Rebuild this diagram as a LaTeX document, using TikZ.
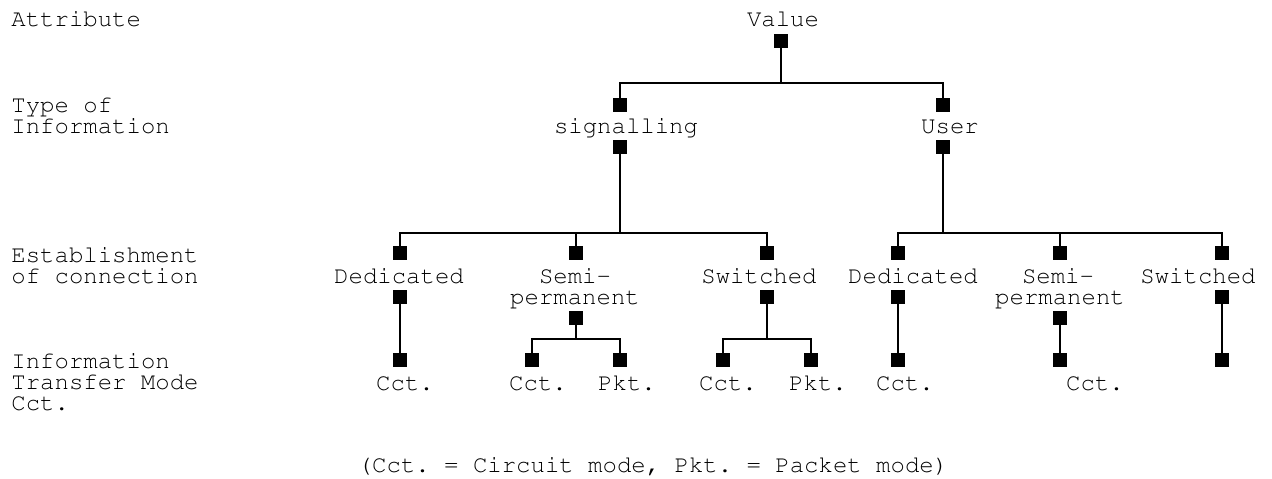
\documentclass[tikz,border=0pt]{standalone}
\usepackage[T1]{fontenc}
\usepackage{courier}
\frenchspacing
\begin{document}
\begin{tikzpicture}[x=0.5pt,y=-0.5pt,
  sq/.style={fill=black,minimum size=7pt,inner sep=0pt},
  lbl/.style={inner sep=0pt,anchor=base,font=\ttfamily\frenchspacing\fontsize{12}{10.5}\selectfont},
  side/.style={lbl,anchor=base west},
  wire/.style={line width=0.9pt}]
\useasboundingbox (0,0) rectangle (1272,478);
% left column labels
\node[side] (attr) at (11,26) {Attribute};
\node[side] (typeA) at (11,112) {Type of};
\node[side] (typeB) at (11,133) {Information};
\node[side] (estA) at (11,262) {Establishment};
\node[side] (estB) at (11,283) {of connection};
\node[side] (itmA) at (11,368) {Information};
\node[side] (itmB) at (11,389) {Transfer Mode};
\node[side] (itmC) at (11,410) {Cct.};
% level 1
\node[lbl] (tval) at (783,26) {Value};
\node[sq] (val) at (781,40.5) {};
% level 2
\node[sq] (sigT) at (620,105) {};
\node[lbl] (tsig) at (626,133) {signalling};
\node[sq] (sigB) at (620,146.5) {};
\node[sq] (usrT) at (943,105) {};
\node[lbl] (tusr) at (950,133) {User};
\node[sq] (usrB) at (943,146.5) {};
% level 3
\node[sq] (sD) at (400,253) {};
\node[sq] (sS) at (576,253) {};
\node[sq] (sW) at (767,253) {};
\node[sq] (uD) at (898,253) {};
\node[sq] (uS) at (1060,253) {};
\node[sq] (uW) at (1222,253) {};
\node[lbl] (tsD) at (399,283) {Dedicated};
\node[lbl] (tsSa) at (575,283) {Semi-};
\node[lbl] (tsSb) at (575,304) {permanent};
\node[lbl] (tsW) at (759,283) {Switched};
\node[lbl] (tuD) at (913,283) {Dedicated};
\node[lbl] (tuSa) at (1058,283) {Semi-};
\node[lbl] (tuSb) at (1060,304) {permanent};
\node[lbl] (tuW) at (1198,283) {Switched};
\node[sq] (sDb) at (400,297) {};
\node[sq] (sSb) at (576,318) {};
\node[sq] (sWb) at (767,297) {};
\node[sq] (uDb) at (898,297) {};
\node[sq] (uSb) at (1060,318) {};
\node[sq] (uWb) at (1222,297) {};
% level 4
\node[sq] (l1) at (400,360) {};
\node[sq] (l2) at (532,360) {};
\node[sq] (l3) at (620,360) {};
\node[sq] (l4) at (723,360) {};
\node[sq] (l5) at (811,360) {};
\node[sq] (l6) at (898,360) {};
\node[sq] (l7) at (1060,360) {};
\node[sq] (l8) at (1222,360) {};
\node[lbl] (c1) at (405,390) {Cct.};
\node[lbl] (c2) at (538,390) {Cct.};
\node[lbl] (c3) at (627,390) {Pkt.};
\node[lbl] (c4) at (728,390) {Cct.};
\node[lbl] (c5) at (818,390) {Pkt.};
\node[lbl] (c6) at (905,390) {Cct.};
\node[lbl] (c7) at (1095,390) {Cct.};
% caption
\node[lbl] (cap) at (653,472) {(Cct. = Circuit mode, Pkt. = Packet mode)};
% bus coordinates
\coordinate (b1) at (781,83);
\coordinate (b2) at (620,233);
\coordinate (b3) at (943,233);
\coordinate (b4) at (576,339);
\coordinate (b5) at (767,339);
% connectors
\draw[wire] (val.south) -- (b1);
\draw[wire] (sigT.north) |- (b1) -| (usrT.north);
\draw[wire] (sigB.south) -- (b2);
\draw[wire] (sD.north) |- (b2) -| (sW.north);
\draw[wire] (sS.north) -- (sS.north |- b2);
\draw[wire] (usrB.south) -- (b3);
\draw[wire] (uD.north) |- (b3) -| (uW.north);
\draw[wire] (uS.north) -- (uS.north |- b3);
\draw[wire] (sDb.south) -- (l1.north);
\draw[wire] (sSb.south) -- (b4);
\draw[wire] (l2.north) |- (b4) -| (l3.north);
\draw[wire] (sWb.south) -- (b5);
\draw[wire] (l4.north) |- (b5) -| (l5.north);
\draw[wire] (uDb.south) -- (l6.north);
\draw[wire] (uSb.south) -- (l7.north);
\draw[wire] (uWb.south) -- (l8.north);
\end{tikzpicture}
\end{document}
